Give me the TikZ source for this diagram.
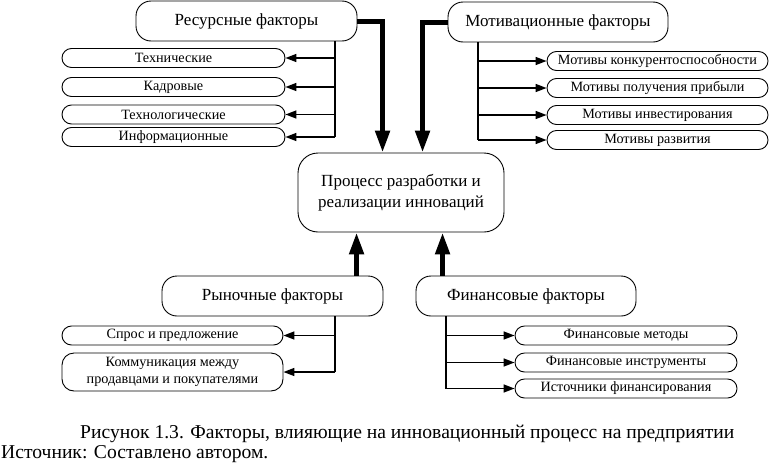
\documentclass[tikz,border=0pt]{standalone}
\usepackage{fontspec}
\setmainfont{Liberation Serif}
\usetikzlibrary{arrows.meta,calc}

\begin{document}
\begin{tikzpicture}[x=1pt,y=-1pt,
  bigbox/.style={draw,line width=0.9pt,rounded corners=15pt,minimum width=#1,minimum height=40pt,inner sep=0pt,align=center,font=\fontsize{17}{21}\selectfont},
  smallbox/.style={draw,line width=0.9pt,rounded corners=9.5pt,minimum width=#1,minimum height=19pt,inner sep=0pt,align=center,font=\fontsize{14.2}{16.5}\selectfont},
  trunk/.style={line width=1.6pt},
  branch/.style={line width=1.6pt,-{Triangle[length=11pt,width=8pt]}},
  feed/.style={line width=5pt,-{Triangle[length=22pt,width=14pt]}},
  caption/.style={anchor=base west,inner sep=0pt,font=\fontsize{19.6}{22}\selectfont}]

\useasboundingbox (0,0) rectangle (770,466);

\node[bigbox=221pt] (res) at (246.5,21) {Ресурсные факторы};
\node[bigbox=220pt] (mot) at (558,22) {Мотивационные факторы};
\node[bigbox=206pt,minimum height=79pt,rounded corners=20pt] (proc) at (401,192.5) {Процесс разработки и\\реализации инноваций};
\node[bigbox=221pt] (ryn) at (272.5,296) {Рыночные факторы};
\node[bigbox=220pt] (fin) at (526,296) {Финансовые факторы};

\node[smallbox=223pt] (r1) at (173.5,58) {Технические};
\node[smallbox=223pt] (r2) at (173.5,87) {Кадровые};
\node[smallbox=223pt] (r3) at (173.5,114.5) {Технологические};
\node[smallbox=223pt] (r4) at (173.5,137) {Информационные};

\node[smallbox=221pt] (m1) at (657.5,61) {Мотивы конкурентоспособности};
\node[smallbox=221pt] (m2) at (657.5,88) {Мотивы получения прибыли};
\node[smallbox=221pt] (m3) at (657.5,115) {Мотивы инвестирования};
\node[smallbox=221pt] (m4) at (657.5,140) {Мотивы развития};

\node[smallbox=221pt] (ry1) at (172.5,335.5) {Спрос и предложение};
\node[smallbox=221pt,minimum height=38pt,rounded corners=12pt] (ry2) at (172.5,372) {Коммуникация между\\продавцами и покупателями};

\node[smallbox=222pt] (f1) at (626,335.5) {Финансовые методы};
\node[smallbox=222pt] (f2) at (626,362.5) {Финансовые инструменты};
\node[smallbox=222pt] (f3) at (626,388.5) {Источники финансирования};

% junctions of the branches
\coordinate (rj) at (335,137);
\coordinate (mj) at (478,140);
\coordinate (ryj) at (335,372);
\coordinate (fj) at (446,388.5);

\draw[trunk] (rj |- res.south) -- (rj);
\foreach \b in {r1,r2,r3,r4}
  \draw[branch] (rj |- \b) -- (\b.east);

\draw[trunk] (mj |- mot.south) -- (mj);
\foreach \b in {m1,m2,m3,m4}
  \draw[branch] (mj |- \b) -- (\b.west);

\draw[trunk] (ryj |- ryn.south) -- (ryj);
\foreach \b in {ry1,ry2}
  \draw[branch] (ryj |- \b) -- (\b.east);

\draw[trunk] (fj |- fin.south) -- (fj);
\foreach \b in {f1,f2,f3}
  \draw[branch] (fj |- \b) -- (\b.west);

% main arrows into the process
\coordinate (pa) at ($(proc.north west)+(85,0)$);
\coordinate (pb) at ($(proc.north west)+(125,0)$);
\coordinate (pc) at ($(proc.south west)+(59,0)$);
\coordinate (pd) at ($(proc.south west)+(145,0)$);

\draw[feed] (res.east) -| (pa);
\draw[feed] (mot.west) -| (pb);
\draw[feed] (pc |- ryn.north) -- (pc);
\draw[feed] (pd |- fin.north) -- (pd);

\node[caption] (cap) at (80,438) {Рисунок 1.3. Факторы, влияющие на инновационный процесс на предприятии};
\node[caption] (src) at (1,458) {Источник: Составлено автором.};
\end{tikzpicture}
\end{document}
